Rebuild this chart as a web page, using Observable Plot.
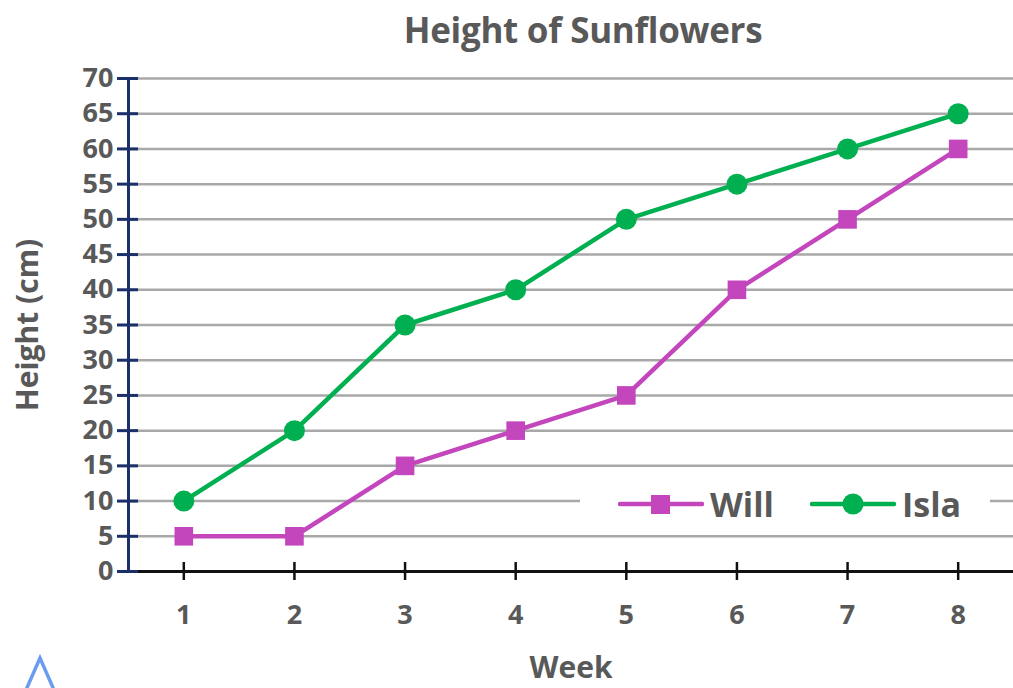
<!DOCTYPE html>
<html><head><meta charset="utf-8">
<script src="https://cdn.jsdelivr.net/npm/d3@7"></script>
<script src="https://cdn.jsdelivr.net/npm/@observablehq/plot@0.6"></script>
<style>
body{margin:0;background:#fff;font-family:"Open Sans",sans-serif;}
#wrap{position:relative;width:1013px;height:688px;overflow:hidden;}
#title{position:absolute;left:0;top:6px;width:1013px;padding-left:153px;box-sizing:border-box;text-align:center;font-size:35px;font-weight:bold;color:#595959;letter-spacing:-0.3px;}
#legend{position:absolute;left:580px;top:478px;width:410px;height:52px;background:#fff;display:flex;align-items:center;font-size:34px;font-weight:bold;color:#595959;}
#legend .item{display:flex;align-items:center;margin-left:38px;}
#legend .item span{margin-left:6px;}
#legend .item + .item{margin-left:36px;}
#caret{position:absolute;left:20px;top:654px;}
</style></head><body>
<div id="wrap">
<div id="title">Height of Sunflowers</div>
<div id="chart"></div>
<div id="legend"></div>
<svg id="caret" width="46" height="36"><polyline points="6,36 20,4 34,36" fill="none" stroke="#6b9cf0" stroke-width="3.5"/></svg>
</div>
<script>
const weeks = [1,2,3,4,5,6,7,8];
const will = [5,5,15,20,25,40,50,60];
const isla = [10,20,35,40,50,55,60,65];
const yTicks = [0,5,10,15,20,25,30,35,40,45,50,55,60,65,70];
const seriesNames = ["Will","Isla"];
const seriesColors = ["#c446bd","#00b050"];
const seriesSymbols = ["square","circle"];

const data = [];
weeks.forEach((w,i)=>{ data.push({week:w, h:will[i], s:"Will"}); });
weeks.forEach((w,i)=>{ data.push({week:w, h:isla[i], s:"Isla"}); });

const navy = "#1b2f6b";
const grey = "#595959";
const fontFam = "'Open Sans', sans-serif";

const plot = Plot.plot({
  width: 1013, height: 688,
  marginTop: 78, marginBottom: 117, marginLeft: 128, marginRight: 0,
  style: {fontFamily: fontFam, background: "transparent", overflow: "visible"},
  x: {domain: [0.5, 8.5], label: null},
  y: {domain: [0, 70], label: null},
  color: {domain: seriesNames, range: seriesColors},
  symbol: {domain: seriesNames, range: seriesSymbols},
  marks: [
    Plot.gridY(yTicks.filter(d=>d>0), {stroke: "#a8a8a8", strokeOpacity: 1, strokeWidth: 2.5}),
    Plot.ruleY([0], {stroke: "#111", strokeWidth: 3}),
    Plot.axisX(weeks, {tickSize: 9, stroke: "#111", strokeWidth: 2.5, text: null}),
    Plot.axisX(weeks, {tickSize: -9, stroke: "#111", strokeWidth: 2.5, text: null}),
    Plot.axisX(weeks, {tickSize: 0, tickPadding: 33, fontSize: 27, fontWeight: "bold", fill: grey,
      label: "Week", labelAnchor: "center", labelArrow: "none", labelOffset: 106}),
    Plot.ruleX([0.5], {stroke: navy, strokeWidth: 3}),
    Plot.axisY(yTicks, {tickSize: 11, stroke: navy, strokeWidth: 3, text: null}),
    Plot.axisY(yTicks, {tickSize: -10, stroke: navy, strokeWidth: 3, text: null}),
    Plot.axisY(yTicks, {tickSize: 0, tickPadding: 15, fontSize: 27, fontWeight: "bold", fill: grey,
      label: "Height (cm)", labelAnchor: "center", labelArrow: "none", labelOffset: 112}),
    Plot.line(data, {x: "week", y: "h", z: "s", stroke: "s", strokeWidth: 4.5}),
    Plot.dot(data, {x: "week", y: "h", fill: "s", symbol: "s", r: 10.5, stroke: "none"})
  ]
});
plot.querySelectorAll('g[aria-label="x-axis label"] text, g[aria-label="y-axis label"] text').forEach(t=>{
  t.setAttribute("font-size","30"); t.setAttribute("font-weight","bold"); t.setAttribute("fill",grey);
});
document.getElementById("chart").appendChild(plot);

const leg = document.getElementById("legend");
seriesNames.forEach((n,i)=>{
  const it = document.createElement("div"); it.className="item";
  const mark = seriesSymbols[i]==="square"
    ? `<rect x="33" y="4" width="19" height="19" fill="${seriesColors[i]}"/>`
    : `<circle cx="43" cy="13" r="10.5" fill="${seriesColors[i]}"/>`;
  it.innerHTML = `<svg width="86" height="26"><line x1="2" y1="13" x2="84" y2="13" stroke="${seriesColors[i]}" stroke-width="4.5" stroke-linecap="round"/>${mark}</svg><span>${n}</span>`;
  leg.appendChild(it);
});
</script>
</body></html>
